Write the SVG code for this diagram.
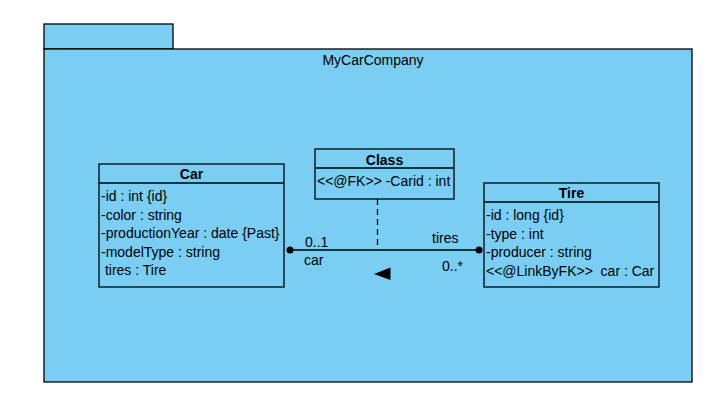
<svg xmlns="http://www.w3.org/2000/svg" width="718" height="408" viewBox="0 0 718 408">
<style>
text{font-family:"Liberation Sans",Arial,sans-serif;font-size:14px;fill:#000}
.h{font-weight:bold;text-anchor:middle}
.box{fill:#7ACEF4;stroke:#000;stroke-width:1.3}
.ln{stroke:#000;stroke-width:1.3;fill:none}
</style>
<rect width="718" height="408" fill="#fff"/>
<g id="pkg">
<rect x="44" y="24" width="129" height="25" class="box"/>
<rect x="44" y="49" width="648" height="333" class="box"/>
<text x="373" y="65" text-anchor="middle">MyCarCompany</text>
</g>
<g id="connectors">
<line x1="290" y1="250" x2="479" y2="250" class="ln"/>
<circle cx="290" cy="250" r="3.5" fill="#000"/>
<circle cx="479" cy="250" r="3.5" fill="#000"/>
<line x1="377.5" y1="199" x2="377.5" y2="250" class="ln" stroke-dasharray="6,4"/>
<polygon points="374,274 390.5,267.5 390.5,280" fill="#000"/>
<text x="305" y="246.5">0..1</text>
<text x="304" y="265">car</text>
<text x="432" y="242.5">tires</text>
<text x="442" y="271">0..*</text>
</g>
<g id="car">
<rect x="99" y="164" width="185" height="123" class="box"/>
<line x1="99" y1="183" x2="284" y2="183" class="ln"/>
<text x="191.5" y="179" class="h">Car</text>
<text x="101" y="201">-id : int {id}</text>
<text x="101" y="219.5">-color : string</text>
<text x="101" y="238">-productionYear : date {Past}</text>
<text x="101" y="256.5">-modelType : string</text>
<text x="101" y="275" xml:space="preserve"> tires : Tire</text>
</g>
<g id="class">
<rect x="315" y="149" width="139" height="50" class="box"/>
<line x1="315" y1="168" x2="454" y2="168" class="ln"/>
<text x="384.5" y="165" class="h">Class</text>
<text x="317" y="186">&lt;&lt;@FK&gt;&gt; -Carid : int</text>
</g>
<g id="tire">
<rect x="484" y="183" width="175" height="104" class="box"/>
<line x1="484" y1="202" x2="659" y2="202" class="ln"/>
<text x="571.5" y="198" class="h">Tire</text>
<text x="486" y="220">-id : long {id}</text>
<text x="486" y="238.5">-type : int</text>
<text x="486" y="257">-producer : string</text>
<text x="486" y="275.5" xml:space="preserve">&lt;&lt;@LinkByFK&gt;&gt;  car : Car</text>
</g>
</svg>
